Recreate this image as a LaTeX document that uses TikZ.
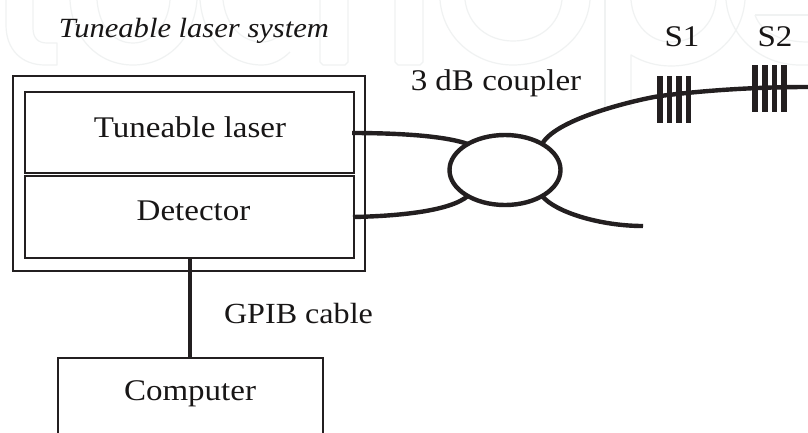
\documentclass[tikz,border=0pt]{standalone}
\usepackage{fontspec}
\setmainfont[FakeStretch=1.1]{Liberation Serif}
\usetikzlibrary{shapes.geometric}
\definecolor{ink}{HTML}{231F20}
\definecolor{wm}{HTML}{F0F2F2}
\tikzset{
  wmark/.style={draw=wm,line width=1.2pt,line join=round},
  frame/.style={draw=ink,line width=2pt,outer sep=0pt,inner sep=0pt},
  fibre/.style={draw=ink,line width=4.4pt},
  cable/.style={draw=ink,line width=4.8pt},
  bar/.style={draw=ink,line width=5.6pt},
  lab/.style={text=ink!70!black,anchor=base,inner sep=0pt,font=\fontsize{30}{34}\selectfont},
}
\begin{document}
\begin{tikzpicture}[x=1pt,y=-1pt]
\useasboundingbox (0,0) rectangle (808,432);
\fill[white] (0,0) rectangle (808,432);
% faint background lettering
\begin{scope}
\clip (0,0) rectangle (808,432);
\draw[wmark] (6,0) -- (6,25) .. controls (6,50) and (22,65) .. (45,65) -- (57,65) -- (57,43) -- (47,43) .. controls (38,43) and (33,38) .. (33,28) -- (33,0);
\draw[wmark] (70,0) .. controls (72,38) and (98,65) .. (133,65) .. controls (168,65) and (194,38) .. (197,0);
\draw[wmark] (97,0) .. controls (99,26) and (113,43) .. (133,43) .. controls (152,43) and (168,26) .. (170,0);
\draw[wmark] (200,0) .. controls (203,38) and (228,65) .. (262,65) .. controls (272,65) and (282,60) .. (290,52);
\draw[wmark] (223,0) .. controls (226,26) and (242,42) .. (262,42) .. controls (270,42) and (278,38) .. (285,30);
\draw[wmark] (320,0) -- (320,62) -- (323,65) -- (345,65) -- (348,62) -- (348,0);
\draw[wmark] (395,0) -- (395,62) -- (398,65) -- (420,65) -- (423,62) -- (423,0);
\draw[wmark] (440,0) .. controls (443,38) and (475,65) .. (513,65) .. controls (553,65) and (587,38) .. (590,0);
\draw[wmark] (465,0) .. controls (468,25) and (488,41) .. (513,41) .. controls (540,41) and (559,25) .. (562,0);
\draw[wmark] (605,0) -- (605,108);
\draw[wmark] (631,108) -- (631,55) .. controls (643,62) and (656,66) .. (671,66);
\draw[wmark] (631,0) .. controls (633,25) and (650,42) .. (671,42) .. controls (695,42) and (714,25) .. (716,0);
\draw[wmark] (671,66) .. controls (712,66) and (742,38) .. (745,0);
\draw[wmark] (726,0) .. controls (729,36) and (760,65) .. (800,65) -- (808,65);
\draw[wmark] (755,15) -- (808,15);
\draw[wmark] (755,15) .. controls (761,32) and (780,42) .. (808,42);
\end{scope}
% boxes
\node[frame,minimum width=352pt,minimum height=195pt] (sys) at (188.5,173) {};
\node[frame,minimum width=329pt,minimum height=81pt] (laser) at (189.5,132.5) {};
\node[frame,minimum width=329pt,minimum height=82pt] (det) at (189.5,217) {};
\draw[ink,line width=1.8pt] (58,440) coordinate (cl) |- (323,358) coordinate (cr) -- (323,440);
\coordinate (ctop) at (190,358);
\node[draw=ink,line width=4.4pt,ellipse,minimum width=111pt,minimum height=70pt,inner sep=0pt,outer sep=0pt] (coup) at (505,170) {};
% connectors
\coordinate (lasr) at (352,133);
\coordinate (detr) at (353,217);
\coordinate (dett) at (190,258);
\coordinate (out1) at (808,87);
\coordinate (out2) at (643,226);
\draw[fibre] (lasr) .. controls (400,133) and (445,136) .. (coup.145);
\draw[fibre] (detr) .. controls (400,216) and (450,211) .. (coup.215);
\draw[fibre] (coup.35) .. controls (556,118) and (640,99) .. (660,96) .. controls (700,91) and (750,87) .. (out1);
\draw[fibre] (coup.325) .. controls (555,212) and (600,226) .. (out2);
\draw[cable] (dett) -- (ctop);
% gratings
\foreach \x in {659.7,669.5,679,688.3} \draw[bar] (\x,76) -- (\x,123);
\foreach \x in {755,765,774.5,784} \draw[bar] (\x,65) -- (\x,112);
% labels
\node[lab,font=\fontsize{27.8}{32}\selectfont] (t1) at (194,37) {\itshape Tuneable laser system};
\node[lab] (t2) at (190,137) {Tuneable laser};
\node[lab] (t3) at (193.5,220) {Detector};
\node[lab] (t4) at (190,400) {Computer};
\node[lab,font=\fontsize{29.2}{33}\selectfont] (t5) at (298.5,323) {GPIB cable};
\node[lab] (t6) at (496,90) {3 dB coupler};
\node[lab] (t7) at (682,46) {S1};
\node[lab] (t8) at (775,46) {S2};
\end{tikzpicture}
\end{document}
